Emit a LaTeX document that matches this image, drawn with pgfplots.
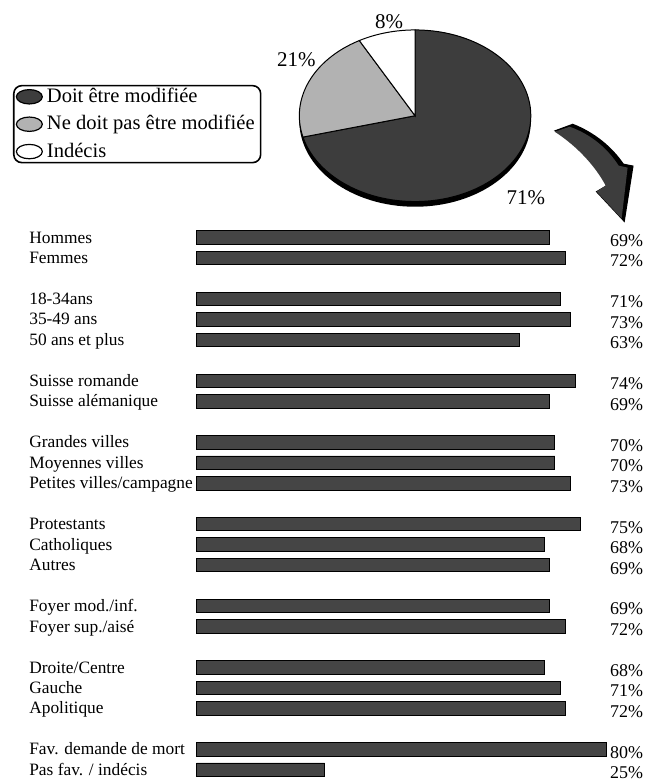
\documentclass[border=0pt]{standalone}
\usepackage{pgfplots}
\pgfplotsset{compat=1.18}
\usepackage{pgfplotstable}
\usepackage{fontspec}
\setmainfont{Liberation Serif}
\definecolor{piedark}{gray}{0.24}
\definecolor{pielight}{gray}{0.70}
\definecolor{barc}{gray}{0.27}

\pgfplotstableread{
idx val
0 69
1 72
3 71
4 73
5 63
7 74
8 69
10 70
11 70
12 73
14 75
15 68
16 69
18 69
19 72
21 68
22 71
23 72
25 80
26 25
}\bardata

\begin{document}
\begin{tikzpicture}
\begin{scope}[x=0.5pt,y=-0.5pt]
\path[use as bounding box] (0,0) rectangle (647,780);
% decorative curved arrow
\fill[black] (574,124) .. controls (597,133) and (614,148) .. (625,164) -- (635,166) -- (626,223) -- (597,192) -- (609,185) .. controls (599,166) and (581,146) .. (555,131) -- cycle;
\fill[piedark] (571,127) .. controls (593,135) and (609,149) .. (620,166) -- (629,168) -- (623,219) -- (598,192) -- (607,186) .. controls (597,167) and (579,147) .. (556,132) -- cycle;
\end{scope}

% ---- pie ----
\begin{axis}[
  at={(208pt,-58pt)}, anchor=center,
  scale only axis, width=116pt, height=86pt,
  xmin=-1, xmax=1, ymin=-1, ymax=1,
  hide axis, clip=false,
  legend style={at={(-1.237,0.680)}, anchor=north west,
    draw=black, line width=0.8pt, rounded corners=4pt,
    font=\fontsize{10.3}{12}\selectfont,
    inner xsep=1pt, inner ysep=0pt, row sep=2.6pt,
    nodes={inner ysep=1.2pt},
    cells={anchor=west}},
]
\fill[black] (axis cs:0,0) ++(0pt,-2.6pt) ellipse [x radius=58pt, y radius=43pt];
\filldraw[fill=piedark, draw=black, line width=0.5pt] (axis cs:0,0) -- (axis cs:{cos(90)},{sin(90)}) arc [start angle=90, end angle=-165.6, x radius=58pt, y radius=43pt] -- cycle;
\filldraw[fill=pielight, draw=black, line width=0.5pt] (axis cs:0,0) -- (axis cs:{cos(-165.6)},{sin(-165.6)}) arc [start angle=-165.6, end angle=-241.2, x radius=58pt, y radius=43pt] -- cycle;
\filldraw[fill=white, draw=black, line width=0.5pt] (axis cs:0,0) -- (axis cs:{cos(-241.2)},{sin(-241.2)}) arc [start angle=-241.2, end angle=-270, x radius=58pt, y radius=43pt] -- cycle;
\node[font=\fontsize{10.5}{12}\selectfont] at (axis cs:0.957,-0.953) {71\%};
\node[font=\fontsize{10.5}{12}\selectfont] at (axis cs:-1.026,0.651) {21\%};
\node[font=\fontsize{10.5}{12}\selectfont] at (axis cs:-0.224,1.093) {8\%};
\addlegendimage{legend image code/.code={\filldraw[fill=piedark,draw=black,line width=0.6pt] (6.5pt,0pt) ellipse [x radius=6.5pt, y radius=3.6pt];}}
\addlegendentry{Doit être modifiée}
\addlegendimage{legend image code/.code={\filldraw[fill=pielight,draw=black,line width=0.6pt] (6.5pt,0pt) ellipse [x radius=6.5pt, y radius=3.6pt];}}
\addlegendentry{Ne doit pas être modifiée}
\addlegendimage{legend image code/.code={\filldraw[fill=white,draw=black,line width=0.6pt] (6.5pt,0pt) ellipse [x radius=6.5pt, y radius=3.6pt];}}
\addlegendentry{Indécis}
\end{axis}

% ---- bars ----
\begin{axis}[
  at={(98.5pt,-113.87pt)}, anchor=north west,
  scale only axis, width=205.2pt, height=277pt,
  xmin=0, xmax=80, ymin=-0.5, ymax=26.5, y dir=reverse,
  axis line style={draw=none}, major tick length=0pt,
  xtick=\empty,
  ytick={0,1,3,4,5,7,8,10,11,12,14,15,16,18,19,21,22,23,25,26},
  yticklabels={Hommes,Femmes,18-34ans,35-49 ans,50 ans et plus,Suisse romande,Suisse alémanique,Grandes villes,Moyennes villes,Petites villes/campagne,Protestants,Catholiques,Autres,Foyer mod./inf.,Foyer sup./aisé,Droite/Centre,Gauche,Apolitique,Fav. demande de mort,Pas fav. / indécis},
  yticklabel style={anchor=base west, xshift=-84pt, yshift=-2.8pt, inner sep=0pt, font=\fontsize{8.7}{10}\selectfont},
  clip=false,
]
\addplot[xbar, bar width=6.8pt, fill=barc, draw=black, line width=0.4pt] table[x=val, y=idx] {\bardata};
\addplot[draw=none, point meta=explicit symbolic,
  nodes near coords={\pgfplotspointmeta\%},
  nodes near coords style={anchor=base east, inner sep=0pt, yshift=-4.5pt, font=\fontsize{9}{10}\selectfont}]
  table[x expr=87.3, y=idx, meta=val] {\bardata};
\end{axis}
\end{tikzpicture}
\end{document}
